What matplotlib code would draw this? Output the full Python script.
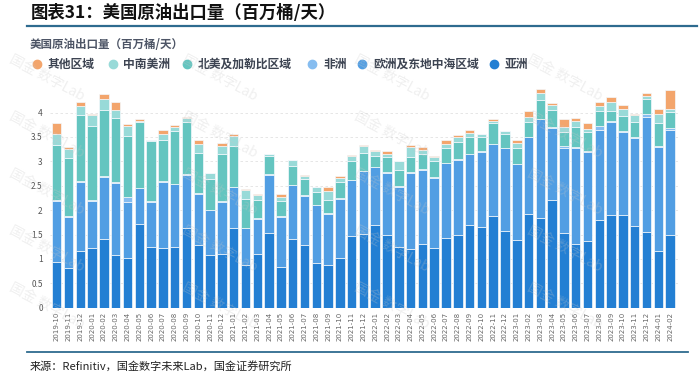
import numpy as np
import pandas as pd
import matplotlib
matplotlib.use('Agg')
import matplotlib.pyplot as plt
from matplotlib.lines import Line2D

plt.rcParams['font.family'] = ['Noto Sans CJK SC', 'DejaVu Sans']

# monthly labels 2019-10 .. 2024-02
months = pd.period_range('2019-10', '2024-02', freq='M').strftime('%Y-%m').tolist()

# million barrels per day
asia = [0.94, 0.81, 1.16, 1.23, 1.41, 1.08, 1.02, 1.72, 1.24, 1.22, 1.24,
        1.63, 1.28, 1.08, 1.10, 1.63, 0.87, 1.10, 1.54, 0.83, 1.41, 1.28,
        0.92, 0.87, 1.01, 1.47, 1.52, 1.69, 1.48, 1.25, 1.20, 1.30, 1.23,
        1.43, 1.48, 1.69, 1.65, 1.88, 1.58, 1.39, 1.93, 1.83, 2.21, 1.54,
        1.30, 1.37, 1.79, 1.89, 1.89, 1.68, 1.56, 1.16, 1.49]
europe = [1.25, 1.05, 1.42, 0.96, 1.27, 1.48, 1.15, 0.73, 0.93, 1.36, 1.29,
          1.10, 1.06, 0.92, 1.07, 0.84, 0.76, 0.72, 1.19, 1.03, 1.10, 1.01,
          1.18, 1.06, 1.22, 1.14, 1.28, 1.19, 1.29, 1.23, 1.57, 1.53, 1.43,
          1.53, 1.55, 1.46, 1.55, 1.47, 1.69, 1.55, 1.56, 2.03, 1.48, 1.74,
          1.98, 1.83, 1.86, 1.91, 1.72, 1.80, 2.35, 2.14, 2.16]
africa = [0.01, 0.01, 0.01, 0.01, 0.01, 0.02, 0.10, 0.01, 0.01, 0.01, 0.01,
          0.01, 0.01, 0.01, 0.01, 0.01, 0.01, 0.01, 0.01, 0.01, 0.01, 0.01,
          0.01, 0.01, 0.01, 0.01, 0.01, 0.01, 0.01, 0.01, 0.01, 0.01, 0.01,
          0.01, 0.01, 0.01, 0.01, 0.01, 0.01, 0.01, 0.01, 0.01, 0.01, 0.03,
          0.02, 0.02, 0.07, 0.03, 0.01, 0.01, 0.05, 0.01, 0.04]
north_america = [1.13, 1.19, 1.36, 1.52, 1.37, 1.30, 1.25, 1.34, 1.24, 0.85, 1.08,
                 1.07, 0.83, 0.63, 0.98, 0.83, 0.59, 0.38, 0.37, 0.32, 0.39, 0.34,
                 0.27, 0.27, 0.33, 0.39, 0.37, 0.22, 0.30, 0.33, 0.31, 0.32, 0.34,
                 0.30, 0.35, 0.34, 0.29, 0.43, 0.27, 0.32, 0.31, 0.39, 0.35, 0.30,
                 0.41, 0.39, 0.32, 0.21, 0.31, 0.32, 0.32, 0.48, 0.33]
south_america = [0.24, 0.19, 0.18, 0.23, 0.22, 0.18, 0.20, 0.03, 0.02, 0.13, 0.09,
                 0.07, 0.17, 0.13, 0.16, 0.21, 0.19, 0.11, 0.04, 0.08, 0.12, 0.06,
                 0.09, 0.18, 0.08, 0.10, 0.13, 0.11, 0.07, 0.19, 0.21, 0.08, 0.07,
                 0.08, 0.11, 0.09, 0.05, 0.04, 0.07, 0.11, 0.09, 0.15, 0.10, 0.10,
                 0.12, 0.06, 0.10, 0.18, 0.14, 0.14, 0.06, 0.18, 0.06]
other = [0.21, 0.04, 0.08, 0.02, 0.10, 0.15, 0.04, 0.04, 0.00, 0.07, 0.03,
         0.03, 0.09, 0.00, 0.06, 0.05, 0.02, 0.02, 0.01, 0.06, 0.00, 0.03,
         0.00, 0.09, 0.05, 0.01, 0.02, 0.02, 0.06, 0.00, 0.03, 0.05, 0.03,
         0.09, 0.04, 0.06, 0.00, 0.04, 0.01, 0.06, 0.13, 0.07, 0.05, 0.16,
         0.05, 0.11, 0.07, 0.09, 0.08, 0.03, 0.07, 0.10, 0.39]

series = [
    ('亚洲', asia, '#237fd3'),
    ('欧洲及东地中海区域', europe, '#519ee3'),
    ('非洲', africa, '#86bdf0'),
    ('北美及加勒比区域', north_america, '#64c5c0'),
    ('中南美洲', south_america, '#98dad8'),
    ('其他区域', other, '#f3a56c'),
]

W, H = 700, 374
fig = plt.figure(figsize=(W / 100, H / 100), dpi=100)

def fx(px):
    return px / W

def fy(py):
    return 1 - py / H

# plot area
ax = fig.add_axes([fx(49.6), fy(307.7), fx(630), (307.7 - 85.7) / H])
x = np.arange(len(months))
bottom = np.zeros(len(months))
for name, vals, color in series:
    vals = np.array(vals)
    ax.bar(x, vals, 0.8, bottom=bottom, color=color, edgecolor='#f4f8fc',
           linewidth=0.5, zorder=2)
    bottom += vals

ax.set_xlim(-0.6, 52.8)
ax.set_ylim(0, 4.55)
ax.set_yticks(np.arange(0, 4.01, 0.5))
ax.set_yticklabels(['0', '0.5', '1', '1.5', '2', '2.5', '3', '3.5', '4'])
ax.set_xticks(x)
ax.set_xticklabels(months, rotation=90, fontsize=5, color='#666666',
                   family='DejaVu Sans')
ax.tick_params(axis='y', labelsize=6, labelcolor='#555555', length=0, pad=5)
ax.tick_params(axis='x', length=0, pad=3)
ax.yaxis.grid(True, linestyle=(0, (3, 3)), color='#e2e2e2', linewidth=0.6)
ax.set_axisbelow(True)
for s in ax.spines.values():
    s.set_visible(False)

# title and rules
fig.text(fx(31), fy(13), '图表31：美国原油出口量（百万桶/天）', fontsize=12.5,
         weight='bold', style='italic', va='center', color='#111111')
fig.add_artist(Line2D([fx(27), fx(697)], [fy(25.5), fy(25.5)],
                      color='#2e6b8f', lw=1.6))
fig.add_artist(Line2D([fx(27), fx(688)], [fy(352), fy(352)],
                      color='#2e6b8f', lw=1.3))
fig.text(fx(30), fy(366), '来源：Refinitiv，国金数字未来Lab，国金证券研究所',
         fontsize=8, va='center', color='#222222')

# chart subtitle
fig.text(fx(30), fy(44), '美国原油出口量（百万桶/天）', fontsize=8.3,
         weight='bold', va='center', color='#4d5566')

# legend row
legend_items = [
    (36.5, '其他区域', '#f3a56c'),
    (112.5, '中南美洲', '#98dad8'),
    (187, '北美及加勒比区域', '#64c5c0'),
    (312, '非洲', '#86bdf0'),
    (362, '欧洲及东地中海区域', '#519ee3'),
    (494, '亚洲', '#237fd3'),
]
for cx, label, color in legend_items:
    fig.add_artist(Line2D([fx(cx)], [fy(64)], marker='o', markersize=6,
                          color=color, linestyle='none'))
    fig.text(fx(cx + 11), fy(64), label, fontsize=8.5, weight='bold',
             va='center', color='#3d4452')

# faint watermark
for cx in [47, 220, 392, 565]:
    for cy in [78, 135, 192, 249, 306]:
        fig.text(fx(cx), fy(cy), '国金 数字Lab', rotation=-28, ha='center',
                 va='center', fontsize=10, color='#c8c8c8', alpha=0.28,
                 zorder=5)

fig.savefig('out.png', dpi=100)
